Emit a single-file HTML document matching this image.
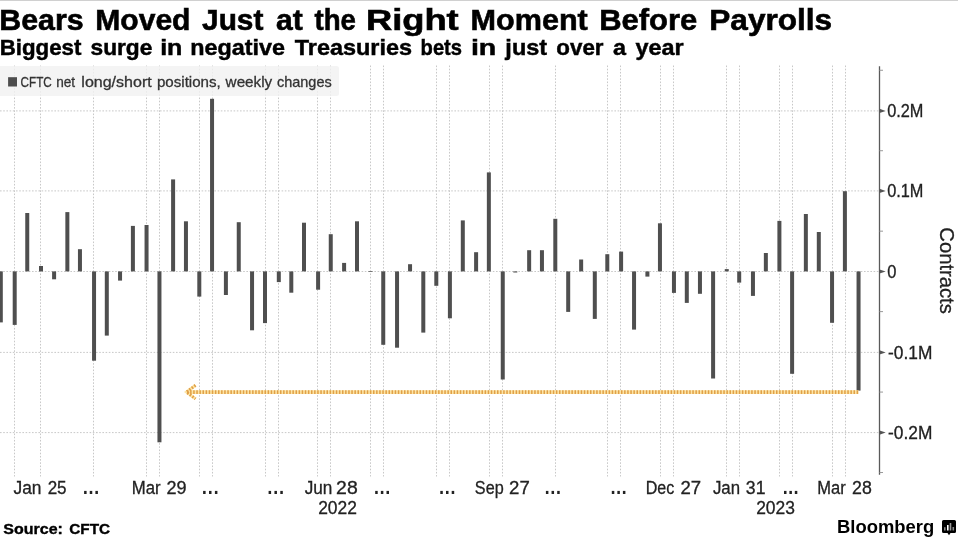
<!DOCTYPE html>
<html><head><meta charset="utf-8"><style>
html,body{margin:0;padding:0;background:#fff;}
body{width:958px;height:538px;position:relative;overflow:hidden;font-family:"Liberation Sans",sans-serif;}
svg{position:absolute;left:0;top:0;font-family:"Liberation Sans",sans-serif;will-change:transform;}
#topline{position:absolute;left:0;top:0;width:958px;height:1px;background:#d0d0d0;}
.g{stroke:#c8c8c8;stroke-width:1;stroke-dasharray:1.6 1.6;}
</style></head><body>
<div id="topline"></div>
<svg width="958" height="538" viewBox="0 0 958 538">
<line x1="14.50" y1="65.5" x2="14.50" y2="476.5" class="g"/>
<line x1="40.50" y1="65.5" x2="40.50" y2="476.5" class="g"/>
<line x1="93.50" y1="65.5" x2="93.50" y2="476.5" class="g"/>
<line x1="146.50" y1="65.5" x2="146.50" y2="476.5" class="g"/>
<line x1="159.50" y1="65.5" x2="159.50" y2="476.5" class="g"/>
<line x1="199.50" y1="65.5" x2="199.50" y2="476.5" class="g"/>
<line x1="212.50" y1="65.5" x2="212.50" y2="476.5" class="g"/>
<line x1="265.50" y1="65.5" x2="265.50" y2="476.5" class="g"/>
<line x1="278.50" y1="65.5" x2="278.50" y2="476.5" class="g"/>
<line x1="317.50" y1="65.5" x2="317.50" y2="476.5" class="g"/>
<line x1="330.50" y1="65.5" x2="330.50" y2="476.5" class="g"/>
<line x1="370.50" y1="65.5" x2="370.50" y2="476.5" class="g"/>
<line x1="383.50" y1="65.5" x2="383.50" y2="476.5" class="g"/>
<line x1="436.50" y1="65.5" x2="436.50" y2="476.5" class="g"/>
<line x1="449.50" y1="65.5" x2="449.50" y2="476.5" class="g"/>
<line x1="489.50" y1="65.5" x2="489.50" y2="476.5" class="g"/>
<line x1="502.50" y1="65.5" x2="502.50" y2="476.5" class="g"/>
<line x1="555.50" y1="65.5" x2="555.50" y2="476.5" class="g"/>
<line x1="607.50" y1="65.5" x2="607.50" y2="476.5" class="g"/>
<line x1="620.50" y1="65.5" x2="620.50" y2="476.5" class="g"/>
<line x1="660.50" y1="65.5" x2="660.50" y2="476.5" class="g"/>
<line x1="673.50" y1="65.5" x2="673.50" y2="476.5" class="g"/>
<line x1="726.50" y1="65.5" x2="726.50" y2="476.5" class="g"/>
<line x1="739.50" y1="65.5" x2="739.50" y2="476.5" class="g"/>
<line x1="779.50" y1="65.5" x2="779.50" y2="476.5" class="g"/>
<line x1="792.50" y1="65.5" x2="792.50" y2="476.5" class="g"/>
<line x1="832.50" y1="65.5" x2="832.50" y2="476.5" class="g"/>
<line x1="845.50" y1="65.5" x2="845.50" y2="476.5" class="g"/>
<line x1="0" y1="110.90" x2="878.50" y2="110.90" class="g"/>
<line x1="0" y1="190.90" x2="878.50" y2="190.90" class="g"/>
<line x1="0" y1="271.50" x2="878.50" y2="271.50" class="g"/>
<line x1="0" y1="352.40" x2="878.50" y2="352.40" class="g"/>
<line x1="0" y1="432.60" x2="878.50" y2="432.60" class="g"/>
<rect x="-3" y="66" width="342" height="30" rx="2.5" fill="#f2f2f2" fill-opacity="0.82"/>
<rect x="8.1" y="77.2" width="8.9" height="9.3" fill="#4d4d4d"/>
<g fill="#4f4f4f"><rect x="-1.20" y="271.40" width="4.0" height="51.00"/><rect x="12.70" y="271.40" width="4.0" height="53.50"/><rect x="25.25" y="213.00" width="4.0" height="58.40"/><rect x="39.00" y="266.00" width="4.0" height="5.40"/><rect x="52.10" y="271.40" width="4.0" height="7.90"/><rect x="65.35" y="212.10" width="4.0" height="59.30"/><rect x="77.95" y="249.20" width="4.0" height="22.20"/><rect x="92.05" y="271.40" width="4.0" height="89.30"/><rect x="104.80" y="271.40" width="4.0" height="64.20"/><rect x="118.05" y="271.40" width="4.0" height="9.20"/><rect x="130.90" y="225.90" width="4.0" height="45.50"/><rect x="144.55" y="225.00" width="4.0" height="46.40"/><rect x="157.45" y="271.40" width="4.0" height="170.90"/><rect x="171.10" y="179.40" width="4.0" height="92.00"/><rect x="183.95" y="221.30" width="4.0" height="50.10"/><rect x="197.30" y="271.40" width="4.0" height="25.20"/><rect x="210.05" y="98.80" width="4.0" height="172.60"/><rect x="223.90" y="271.40" width="4.0" height="23.60"/><rect x="236.75" y="222.20" width="4.0" height="49.20"/><rect x="250.05" y="271.40" width="4.0" height="58.90"/><rect x="263.00" y="271.40" width="4.0" height="51.70"/><rect x="276.80" y="271.40" width="4.0" height="10.70"/><rect x="289.30" y="271.40" width="4.0" height="21.30"/><rect x="302.00" y="222.70" width="4.0" height="48.70"/><rect x="316.10" y="271.40" width="4.0" height="18.30"/><rect x="328.75" y="234.20" width="4.0" height="37.20"/><rect x="342.10" y="262.90" width="4.0" height="8.50"/><rect x="355.00" y="221.30" width="4.0" height="50.10"/><rect x="368.50" y="271.05" width="4.0" height="0.70"/><rect x="381.25" y="271.40" width="4.0" height="73.40"/><rect x="395.05" y="271.40" width="4.0" height="76.30"/><rect x="408.05" y="264.20" width="4.0" height="7.20"/><rect x="421.30" y="271.40" width="4.0" height="61.20"/><rect x="434.30" y="271.40" width="4.0" height="14.40"/><rect x="447.90" y="271.40" width="4.0" height="46.90"/><rect x="460.80" y="220.40" width="4.0" height="51.00"/><rect x="474.10" y="252.20" width="4.0" height="19.20"/><rect x="486.85" y="172.40" width="4.0" height="99.00"/><rect x="500.75" y="271.40" width="4.0" height="108.10"/><rect x="513.30" y="271.40" width="4.0" height="1.10"/><rect x="527.15" y="250.20" width="4.0" height="21.20"/><rect x="539.95" y="250.20" width="4.0" height="21.20"/><rect x="553.30" y="218.80" width="4.0" height="52.60"/><rect x="566.20" y="271.40" width="4.0" height="40.50"/><rect x="579.15" y="259.50" width="4.0" height="11.90"/><rect x="592.80" y="271.40" width="4.0" height="47.50"/><rect x="605.30" y="254.20" width="4.0" height="17.20"/><rect x="619.10" y="251.60" width="4.0" height="19.80"/><rect x="632.05" y="271.40" width="4.0" height="58.20"/><rect x="645.40" y="271.40" width="4.0" height="5.20"/><rect x="657.95" y="223.30" width="4.0" height="48.10"/><rect x="671.95" y="271.40" width="4.0" height="21.50"/><rect x="684.80" y="271.40" width="4.0" height="31.50"/><rect x="697.95" y="271.40" width="4.0" height="22.40"/><rect x="711.10" y="271.40" width="4.0" height="107.10"/><rect x="724.75" y="269.10" width="4.0" height="2.30"/><rect x="737.20" y="271.40" width="4.0" height="11.20"/><rect x="750.95" y="271.40" width="4.0" height="24.50"/><rect x="763.85" y="253.00" width="4.0" height="18.40"/><rect x="777.40" y="220.90" width="4.0" height="50.50"/><rect x="790.10" y="271.40" width="4.0" height="102.40"/><rect x="803.85" y="214.00" width="4.0" height="57.40"/><rect x="816.80" y="232.00" width="4.0" height="39.40"/><rect x="830.05" y="271.40" width="4.0" height="51.40"/><rect x="842.90" y="191.20" width="4.0" height="80.20"/><rect x="856.55" y="271.40" width="4.0" height="119.20"/></g>
<line x1="879.5" y1="66.2" x2="879.5" y2="474.8" stroke="#5a5a5a" stroke-width="1.3"/>
<path d="M879.5 108.80000000000001L885.7 110.9L879.5 113.0Z" fill="#555"/>
<path d="M879.5 188.8L885.7 190.9L879.5 193.0Z" fill="#555"/>
<path d="M879.5 269.4L885.7 271.5L879.5 273.6Z" fill="#555"/>
<path d="M879.5 350.29999999999995L885.7 352.4L879.5 354.5Z" fill="#555"/>
<path d="M879.5 430.5L885.7 432.6L879.5 434.70000000000005Z" fill="#555"/>
<line x1="879.5" y1="472.52" x2="883.0" y2="472.52" stroke="#999" stroke-width="1"/>
<line x1="879.5" y1="392.07" x2="883.0" y2="392.07" stroke="#999" stroke-width="1"/>
<line x1="879.5" y1="311.62" x2="883.0" y2="311.62" stroke="#999" stroke-width="1"/>
<line x1="879.5" y1="231.17" x2="883.0" y2="231.17" stroke="#999" stroke-width="1"/>
<line x1="879.5" y1="150.72" x2="883.0" y2="150.72" stroke="#999" stroke-width="1"/>
<line x1="879.5" y1="70.27" x2="883.0" y2="70.27" stroke="#999" stroke-width="1"/>
<g fill="none" stroke-width="3.6"><line x1="187" y1="392.1" x2="858.5" y2="392.1" stroke="#fde5a5"/><path d="M195.5 385.3L186.5 392.1L195.5 398.9" stroke="#fde5a5" stroke-width="3"/><line x1="187" y1="392.1" x2="858.5" y2="392.1" stroke="#e0a048" stroke-dasharray="1.5 1.6"/><path d="M195.5 385.3L186.5 392.1L195.5 398.9" stroke="#e0a048" stroke-width="3" stroke-dasharray="1.5 1.6"/></g>
<text x="-0.80" y="29.90" font-size="30" font-weight="bold" fill="#000" textLength="84.41" lengthAdjust="spacingAndGlyphs" stroke="#000" stroke-width="0.6">Bears</text>
<text x="95.32" y="29.90" font-size="30" font-weight="bold" fill="#000" textLength="95.17" lengthAdjust="spacingAndGlyphs" stroke="#000" stroke-width="0.6">Moved</text>
<text x="202.05" y="29.90" font-size="30" font-weight="bold" fill="#000" textLength="61.31" lengthAdjust="spacingAndGlyphs" stroke="#000" stroke-width="0.6">Just</text>
<text x="276.13" y="29.90" font-size="30" font-weight="bold" fill="#000" textLength="26.74" lengthAdjust="spacingAndGlyphs" stroke="#000" stroke-width="0.6">at</text>
<text x="314.47" y="29.90" font-size="30" font-weight="bold" fill="#000" textLength="41.47" lengthAdjust="spacingAndGlyphs" stroke="#000" stroke-width="0.6">the</text>
<text x="365.90" y="29.90" font-size="30" font-weight="bold" fill="#000" textLength="92.82" lengthAdjust="spacingAndGlyphs" stroke="#000" stroke-width="0.6">Right</text>
<text x="470.58" y="29.90" font-size="30" font-weight="bold" fill="#000" textLength="117.19" lengthAdjust="spacingAndGlyphs" stroke="#000" stroke-width="0.6">Moment</text>
<text x="599.15" y="29.90" font-size="30" font-weight="bold" fill="#000" textLength="98.22" lengthAdjust="spacingAndGlyphs" stroke="#000" stroke-width="0.6">Before</text>
<text x="709.32" y="29.90" font-size="30" font-weight="bold" fill="#000" textLength="122.85" lengthAdjust="spacingAndGlyphs" stroke="#000" stroke-width="0.6">Payrolls</text>
<text x="-0.37" y="54.90" font-size="21.2" font-weight="bold" fill="#000" textLength="81.74" lengthAdjust="spacingAndGlyphs" stroke="#000" stroke-width="0.45">Biggest</text>
<text x="90.50" y="54.90" font-size="21.2" font-weight="bold" fill="#000" textLength="61.87" lengthAdjust="spacingAndGlyphs" stroke="#000" stroke-width="0.45">surge</text>
<text x="160.17" y="54.90" font-size="21.2" font-weight="bold" fill="#000" textLength="22.28" lengthAdjust="spacingAndGlyphs" stroke="#000" stroke-width="0.45">in</text>
<text x="190.28" y="54.90" font-size="21.2" font-weight="bold" fill="#000" textLength="94.82" lengthAdjust="spacingAndGlyphs" stroke="#000" stroke-width="0.45">negative</text>
<text x="294.74" y="54.90" font-size="21.2" font-weight="bold" fill="#000" textLength="117.31" lengthAdjust="spacingAndGlyphs" stroke="#000" stroke-width="0.45">Treasuries</text>
<text x="420.59" y="54.90" font-size="21.2" font-weight="bold" fill="#000" textLength="41.42" lengthAdjust="spacingAndGlyphs" stroke="#000" stroke-width="0.45">bets</text>
<text x="470.92" y="54.90" font-size="21.2" font-weight="bold" fill="#000" textLength="25.44" lengthAdjust="spacingAndGlyphs" stroke="#000" stroke-width="0.45">in</text>
<text x="505.38" y="54.90" font-size="21.2" font-weight="bold" fill="#000" textLength="41.70" lengthAdjust="spacingAndGlyphs" stroke="#000" stroke-width="0.45">just</text>
<text x="556.33" y="54.90" font-size="21.2" font-weight="bold" fill="#000" textLength="47.19" lengthAdjust="spacingAndGlyphs" stroke="#000" stroke-width="0.45">over</text>
<text x="612.92" y="54.90" font-size="21.2" font-weight="bold" fill="#000" textLength="13.02" lengthAdjust="spacingAndGlyphs" stroke="#000" stroke-width="0.45">a</text>
<text x="635.54" y="54.90" font-size="21.2" font-weight="bold" fill="#000" textLength="48.11" lengthAdjust="spacingAndGlyphs" stroke="#000" stroke-width="0.45">year</text>
<text x="20.61" y="87.00" font-size="14.5" fill="#333" textLength="31.22" lengthAdjust="spacingAndGlyphs" stroke="#333" stroke-width="0.3">CFTC</text>
<text x="56.20" y="87.00" font-size="14.5" fill="#333" textLength="18.89" lengthAdjust="spacingAndGlyphs" stroke="#333" stroke-width="0.3">net</text>
<text x="81.33" y="87.00" font-size="14.5" fill="#333" textLength="70.38" lengthAdjust="spacingAndGlyphs" stroke="#333" stroke-width="0.3">long/short</text>
<text x="156.93" y="87.00" font-size="14.5" fill="#333" textLength="63.82" lengthAdjust="spacingAndGlyphs" stroke="#333" stroke-width="0.3">positions,</text>
<text x="225.63" y="87.00" font-size="14.5" fill="#333" textLength="46.59" lengthAdjust="spacingAndGlyphs" stroke="#333" stroke-width="0.3">weekly</text>
<text x="276.99" y="87.00" font-size="14.5" fill="#333" textLength="54.73" lengthAdjust="spacingAndGlyphs" stroke="#333" stroke-width="0.3">changes</text>
<text x="887.16" y="116.90" font-size="17.5" fill="#222" textLength="36.28" lengthAdjust="spacingAndGlyphs" stroke="#222" stroke-width="0.3">0.2M</text>
<text x="887.16" y="196.90" font-size="17.5" fill="#222" textLength="36.28" lengthAdjust="spacingAndGlyphs" stroke="#222" stroke-width="0.3">0.1M</text>
<text x="887.26" y="277.50" font-size="17.5" fill="#222" textLength="9.17" lengthAdjust="spacingAndGlyphs" stroke="#222" stroke-width="0.3">0</text>
<text x="888.04" y="358.50" font-size="17.5" fill="#222" textLength="44.29" lengthAdjust="spacingAndGlyphs" stroke="#222" stroke-width="0.3">-0.1M</text>
<text x="888.04" y="438.60" font-size="17.5" fill="#222" textLength="44.29" lengthAdjust="spacingAndGlyphs" stroke="#222" stroke-width="0.3">-0.2M</text>
<text x="13.54" y="493.70" font-size="17.5" fill="#222" textLength="27.98" lengthAdjust="spacingAndGlyphs" stroke="#222" stroke-width="0.3">Jan</text>
<text x="47.65" y="493.70" font-size="17.5" fill="#222" textLength="18.96" lengthAdjust="spacingAndGlyphs" stroke="#222" stroke-width="0.3">25</text>
<rect x="84.10" y="490.9" width="2.5" height="3.1" fill="#222"/>
<rect x="89.75" y="490.9" width="2.5" height="3.1" fill="#222"/>
<rect x="95.40" y="490.9" width="2.5" height="3.1" fill="#222"/>
<text x="131.73" y="493.70" font-size="17.5" fill="#222" textLength="28.84" lengthAdjust="spacingAndGlyphs" stroke="#222" stroke-width="0.3">Mar</text>
<text x="166.60" y="493.70" font-size="17.5" fill="#222" textLength="20.05" lengthAdjust="spacingAndGlyphs" stroke="#222" stroke-width="0.3">29</text>
<rect x="203.10" y="490.9" width="2.5" height="3.1" fill="#222"/>
<rect x="209.00" y="490.9" width="2.5" height="3.1" fill="#222"/>
<rect x="214.90" y="490.9" width="2.5" height="3.1" fill="#222"/>
<rect x="268.60" y="490.9" width="2.5" height="3.1" fill="#222"/>
<rect x="274.45" y="490.9" width="2.5" height="3.1" fill="#222"/>
<rect x="280.30" y="490.9" width="2.5" height="3.1" fill="#222"/>
<text x="304.74" y="493.70" font-size="17.5" fill="#222" textLength="27.66" lengthAdjust="spacingAndGlyphs" stroke="#222" stroke-width="0.3">Jun</text>
<text x="336.13" y="493.70" font-size="17.5" fill="#222" textLength="21.61" lengthAdjust="spacingAndGlyphs" stroke="#222" stroke-width="0.3">28</text>
<rect x="375.20" y="490.9" width="2.5" height="3.1" fill="#222"/>
<rect x="380.85" y="490.9" width="2.5" height="3.1" fill="#222"/>
<rect x="386.50" y="490.9" width="2.5" height="3.1" fill="#222"/>
<rect x="440.30" y="490.9" width="2.5" height="3.1" fill="#222"/>
<rect x="446.00" y="490.9" width="2.5" height="3.1" fill="#222"/>
<rect x="451.70" y="490.9" width="2.5" height="3.1" fill="#222"/>
<text x="474.87" y="493.70" font-size="17.5" fill="#222" textLength="28.80" lengthAdjust="spacingAndGlyphs" stroke="#222" stroke-width="0.3">Sep</text>
<text x="509.07" y="493.70" font-size="17.5" fill="#222" textLength="20.66" lengthAdjust="spacingAndGlyphs" stroke="#222" stroke-width="0.3">27</text>
<rect x="545.90" y="490.9" width="2.5" height="3.1" fill="#222"/>
<rect x="551.55" y="490.9" width="2.5" height="3.1" fill="#222"/>
<rect x="557.20" y="490.9" width="2.5" height="3.1" fill="#222"/>
<rect x="611.80" y="490.9" width="2.5" height="3.1" fill="#222"/>
<rect x="617.35" y="490.9" width="2.5" height="3.1" fill="#222"/>
<rect x="622.90" y="490.9" width="2.5" height="3.1" fill="#222"/>
<text x="645.68" y="493.70" font-size="17.5" fill="#222" textLength="28.54" lengthAdjust="spacingAndGlyphs" stroke="#222" stroke-width="0.3">Dec</text>
<text x="680.47" y="493.70" font-size="17.5" fill="#222" textLength="20.66" lengthAdjust="spacingAndGlyphs" stroke="#222" stroke-width="0.3">27</text>
<text x="712.95" y="493.70" font-size="17.5" fill="#222" textLength="27.13" lengthAdjust="spacingAndGlyphs" stroke="#222" stroke-width="0.3">Jan</text>
<text x="745.83" y="493.70" font-size="17.5" fill="#222" textLength="19.62" lengthAdjust="spacingAndGlyphs" stroke="#222" stroke-width="0.3">31</text>
<rect x="784.00" y="490.9" width="2.5" height="3.1" fill="#222"/>
<rect x="789.40" y="490.9" width="2.5" height="3.1" fill="#222"/>
<rect x="794.80" y="490.9" width="2.5" height="3.1" fill="#222"/>
<text x="817.35" y="493.70" font-size="17.5" fill="#222" textLength="28.42" lengthAdjust="spacingAndGlyphs" stroke="#222" stroke-width="0.3">Mar</text>
<text x="852.11" y="493.70" font-size="17.5" fill="#222" textLength="19.76" lengthAdjust="spacingAndGlyphs" stroke="#222" stroke-width="0.3">28</text>
<text x="318.13" y="513.70" font-size="17.5" fill="#222" textLength="38.75" lengthAdjust="spacingAndGlyphs" stroke="#222" stroke-width="0.3">2022</text>
<text x="756.13" y="513.70" font-size="17.5" fill="#222" textLength="38.73" lengthAdjust="spacingAndGlyphs" stroke="#222" stroke-width="0.3">2023</text>
<text x="3.35" y="534.40" font-size="14.2" font-weight="bold" fill="#000" textLength="59.59" lengthAdjust="spacingAndGlyphs" stroke="#000" stroke-width="0.35">Source:</text>
<text x="69.27" y="534.40" font-size="14.2" font-weight="bold" fill="#000" textLength="40.74" lengthAdjust="spacingAndGlyphs" stroke="#000" stroke-width="0.35">CFTC</text>
<text x="837.09" y="532.50" font-size="18.2" font-weight="bold" fill="#000" textLength="97.15" lengthAdjust="spacingAndGlyphs">Bloomberg</text>
<g transform="translate(939.6 0) rotate(90)"><text x="227.29" y="0" font-size="20.5" fill="#222" textLength="86.55" lengthAdjust="spacingAndGlyphs" stroke="#222" stroke-width="0.3">Contracts</text></g>
</svg>
<svg width="16" height="17" viewBox="0 0 16 17" style="left:941px;top:519px">
<path d="M2.5 1H13.5Q15 1 15 2.5V12.5Q15 14 13.5 14H9.5L8 16.2L6.5 14H2.5Q1 14 1 12.5V2.5Q1 1 2.5 1Z" fill="#000"/>
<rect x="3" y="8.2" width="1.6" height="3.3" fill="#888"/>
<rect x="6" y="6" width="1.6" height="5.5" fill="#fff"/>
<rect x="8.7" y="4" width="1.6" height="7.5" fill="#999"/>
<rect x="11.5" y="8" width="1.6" height="3.5" fill="#888"/>
</svg>
</body></html>
